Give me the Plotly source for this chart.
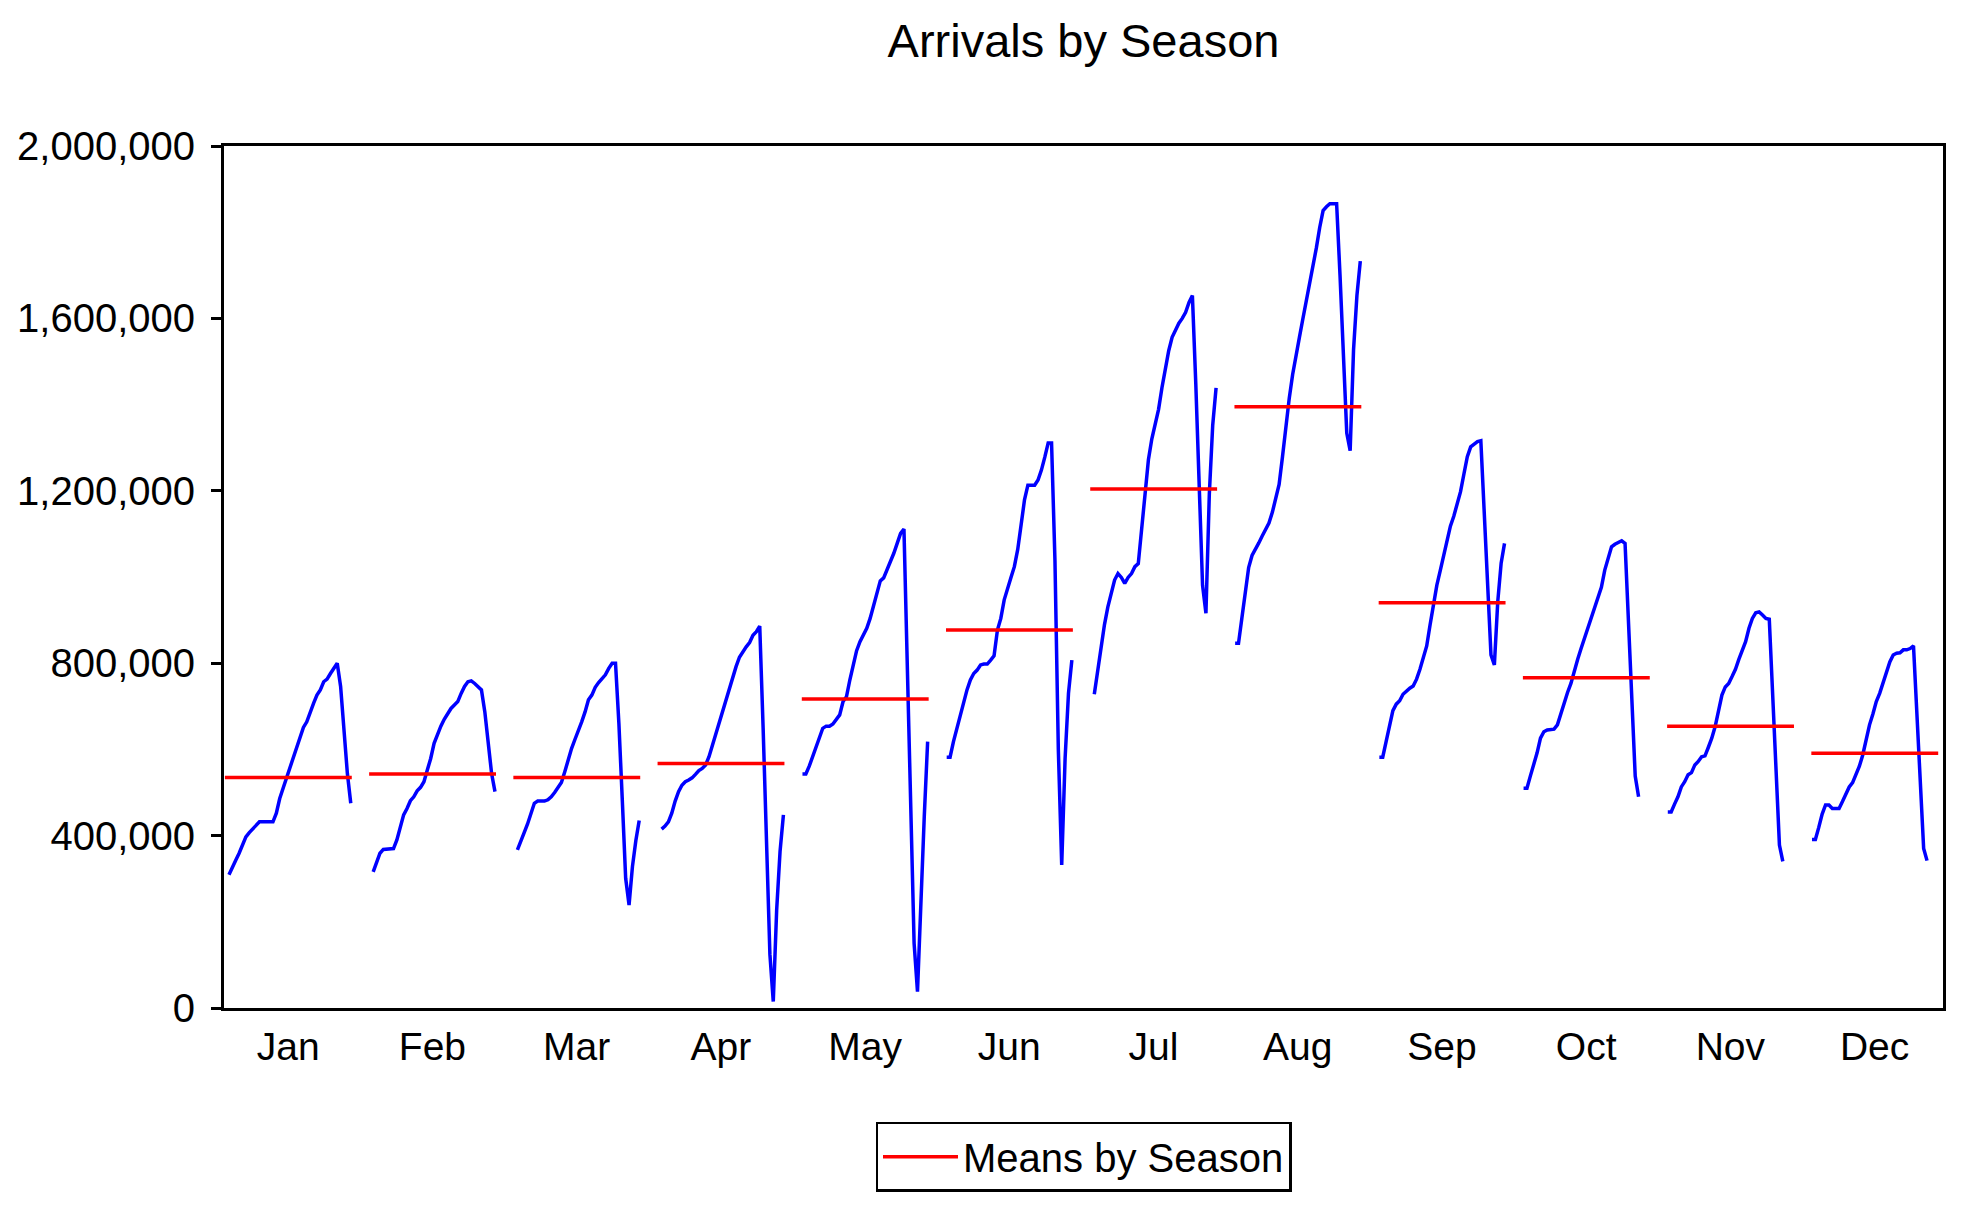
import plotly.graph_objects as go

# ---------------- data (values in thousands of arrivals) ----------------
MONTHS = ["Jan", "Feb", "Mar", "Apr", "May", "Jun",
          "Jul", "Aug", "Sep", "Oct", "Nov", "Dec"]

JAN = [309, 328, 343, 359, 378, 397, 407, 415, 425, 432, 432, 432, 432, 432, 452, 486, 510, 533, 556,
       579, 606, 629, 651, 664, 687, 707, 726, 738, 757, 763, 776, 788, 800, 746, 649, 544, 475]
FEB = [316, 337, 359, 368, 368, 368, 370, 390, 421, 448, 463, 481, 490, 504, 512, 525, 552, 579, 614,
       637, 654, 670, 684, 695, 703, 711, 730, 746, 757, 759, 753, 746, 738, 687, 618, 544, 502]
MAR = [367, 390, 407, 427, 452, 475, 480, 480, 480, 483, 490, 500, 513, 523, 548, 577, 602, 623, 641,
       664, 687, 715, 726, 744, 755, 765, 773, 788, 800, 800, 660, 483, 301, 239, 328, 388, 435]
APR = [415, 422, 432, 452, 480, 502, 517, 525, 529, 534, 542, 551, 556, 564, 583, 609, 637, 664, 691,
       716, 742, 769, 792, 814, 827, 838, 848, 865, 873, 886, 650, 388, 125, 15, 227, 363, 448]
MAY = [543, 543, 561, 582, 605, 623, 649, 654, 654, 659, 668, 680, 711, 722, 761, 800, 829, 850, 865,
       881, 904, 935, 968, 991, 998, 1016, 1032, 1055, 1078, 1101, 1111, 800, 475, 150, 38, 251, 444, 618]
JUN = [582, 582, 618, 649, 680, 713, 738, 761, 776, 784, 796, 798, 798, 807, 817, 877, 904, 947, 976,
       999, 1024, 1064, 1121, 1179, 1213, 1213, 1213, 1225, 1248, 1278, 1311, 1311, 1039, 600, 332, 579, 730, 807]
JUL = [728, 783, 834, 889, 930, 960, 993, 1008, 999, 985, 999, 1008, 1024, 1031, 1112, 1192, 1272, 1320,
       1357, 1389, 1439, 1488, 1525, 1556, 1574, 1589, 1600, 1614, 1637, 1653, 1449, 1205, 981, 916, 1192, 1352, 1439]
AUG = [846, 846, 905, 967, 1022, 1050, 1063, 1079, 1095, 1109, 1125, 1150, 1183, 1215, 1279, 1350, 1415,
       1470, 1508, 1556, 1598, 1637, 1675, 1717, 1763, 1811, 1850, 1859, 1866, 1866, 1866, 1701, 1508, 1334,
       1293, 1527, 1653, 1733]
SEP = [582, 582, 618, 659, 690, 705, 713, 728, 736, 742, 747, 763, 786, 811, 840, 889, 940, 981, 1015,
       1047, 1087, 1118, 1141, 1167, 1198, 1239, 1279, 1302, 1308, 1314, 1316, 1154, 985, 819, 796, 943, 1032, 1078]
OCT = [510, 510, 538, 564, 592, 626, 641, 645, 647, 647, 657, 684, 707, 732, 753, 783, 809, 834, 858,
       881, 904, 930, 953, 976, 1016, 1047, 1070, 1076, 1080, 1084, 1078, 889, 715, 538, 490]
NOV = [455, 455, 473, 490, 513, 525, 541, 546, 564, 572, 583, 585, 605, 626, 653, 687, 726, 745, 753,
       769, 786, 809, 827, 850, 881, 904, 917, 919, 912, 904, 902, 730, 552, 378, 340]
DEC = [391, 391, 419, 450, 471, 471, 463, 463, 463, 479, 496, 513, 523, 541, 561, 587, 626, 657, 682,
       711, 730, 753, 776, 803, 819, 823, 824, 831, 831, 834, 840, 682, 523, 370, 342]

SEASON_MEANS = [535, 543, 535, 567, 717, 877, 1204, 1395, 940, 766, 654, 591]

# index of the first year that has data for each month (0 = first year of the sample)
FIRST_YEAR = [1, 1, 1, 1, 0, 0, 1, 0, 0, 0, 0, 0]
N_YEARS = 38

Y_TICKS = [0, 400000, 800000, 1200000, 1600000, 2000000]

SERIES = [JAN, FEB, MAR, APR, MAY, JUN, JUL, AUG, SEP, OCT, NOV, DEC]

# ---------------- layout constants ----------------
PITCH = 42.63          # width of one season block, in year slots
FONT = "Liberation Sans, Arial, sans-serif"
W, H = 1967, 1207
L, R, T, B = 224, 24, 146, 199

# ---------------- build traces ----------------
bx, by = [], []
for m, vals in enumerate(SERIES):
    for j, v in enumerate(vals):
        bx.append(m * PITCH + FIRST_YEAR[m] + j)
        by.append(v * 1000)
    bx.append(None)
    by.append(None)

rx, ry = [], []
for m, mv in enumerate(SEASON_MEANS):
    rx += [m * PITCH - 0.2, m * PITCH + N_YEARS - 1 + 0.3, None]
    ry += [mv * 1000, mv * 1000, None]

fig = go.Figure()
fig.add_trace(go.Scatter(x=bx, y=by, mode="lines", name="Arrivals",
                         line=dict(color="#0000FF", width=3.5), showlegend=False))
fig.add_trace(go.Scatter(x=rx, y=ry, mode="lines", name="Means by Season",
                         line=dict(color="#FF0000", width=3.5), showlegend=True))

fig.update_layout(
    width=W, height=H,
    margin=dict(l=L, r=R, t=T, b=B, pad=0),
    paper_bgcolor="white", plot_bgcolor="white",
    font=dict(family=FONT, color="black", size=39),
    title=dict(text="Arrivals by Season", x=0.5, xref="paper", xanchor="center",
               y=1 - 41 / H, yref="container", yanchor="middle",
               font=dict(family=FONT, size=47, color="black")),
    legend=dict(orientation="h", x=0.5, xanchor="center", y=-0.132, yanchor="top",
                bordercolor="black", borderwidth=2.5, bgcolor="white",
                font=dict(family=FONT, size=40, color="black"), itemwidth=75),
    xaxis=dict(range=[-0.47, 507.65], showgrid=False, zeroline=False,
               showline=True, mirror=True, linecolor="black", linewidth=3,
               ticks="", tickvals=[m * PITCH + (N_YEARS - 1) / 2 for m in range(12)],
               ticktext=MONTHS, tickfont=dict(family=FONT, size=39, color="black"),
               ticklabelstandoff=2, fixedrange=True),
    yaxis=dict(range=[0, 2000000], showgrid=False, zeroline=False,
               showline=True, mirror=True, linecolor="black", linewidth=3,
               ticks="outside", ticklen=10, tickwidth=3, tickcolor="black",
               tickvals=Y_TICKS, tickformat=",d",
               tickfont=dict(family=FONT, size=40, color="black"),
               ticklabelstandoff=8, fixedrange=True),
)

fig.write_html("out.html", config={"displayModeBar": False},
               post_script="document.body.style.margin='0';document.body.style.overflow='hidden';")
